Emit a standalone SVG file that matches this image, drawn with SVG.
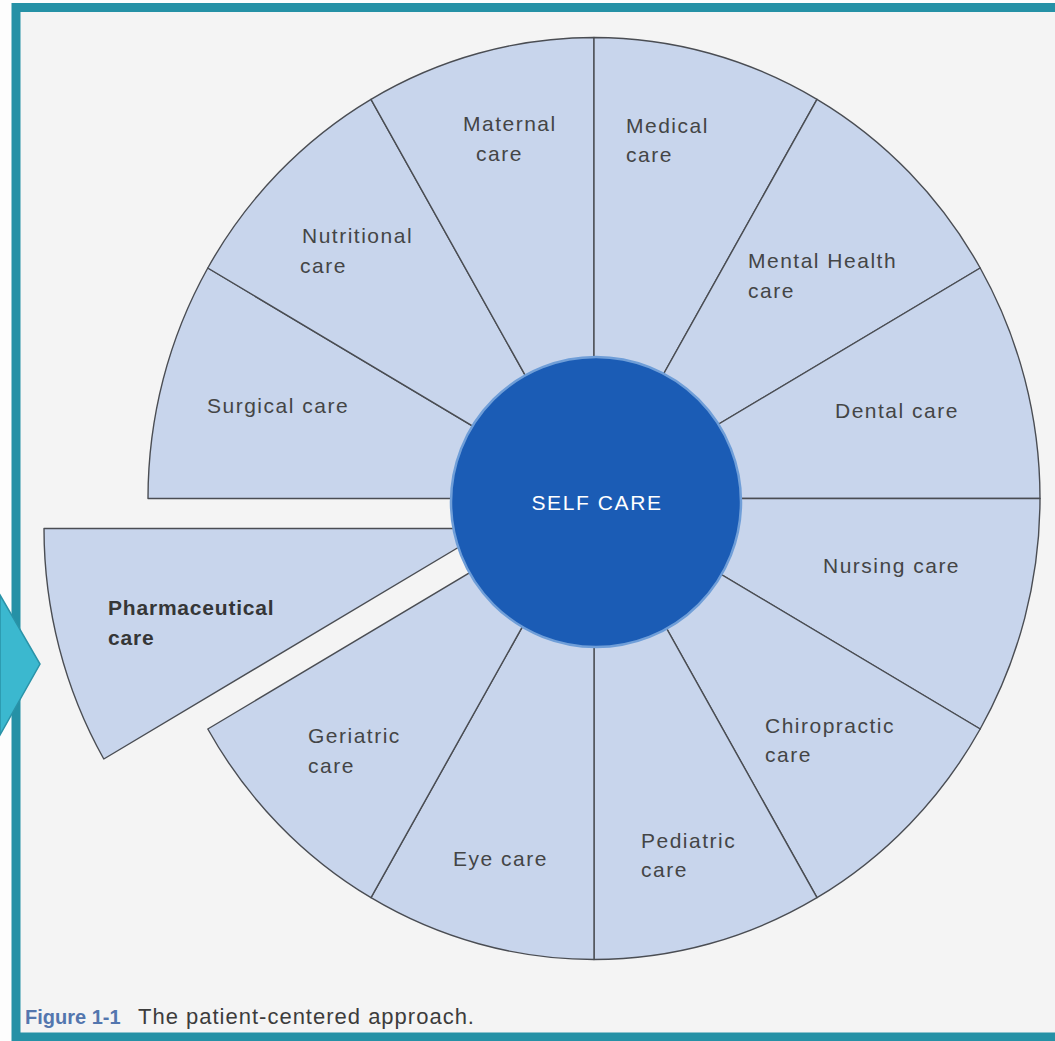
<svg xmlns="http://www.w3.org/2000/svg" width="1055" height="1041" viewBox="0 0 1055 1041">
<style>
.sec{fill:#c8d5ec;stroke:#4a4d53;stroke-width:1.4;stroke-linejoin:round}
.lbl{font-family:"Liberation Sans",Arial,sans-serif;font-size:21px;fill:#444546;letter-spacing:1.5px}
.bold{font-weight:bold;fill:#353637;letter-spacing:0.8px}
.self{font-family:"Liberation Sans",Arial,sans-serif;font-size:21px;fill:#ffffff;letter-spacing:1.6px;text-anchor:middle}
.cap{font-family:"Liberation Sans",Arial,sans-serif;font-size:22px}
.fig{font-size:20px;font-weight:bold;fill:#5376ae}
</style>
<rect x="0" y="0" width="1055" height="1041" fill="#fdfdfd"/>
<rect x="16" y="7.5" width="1060" height="1029.5" fill="#f4f4f4" stroke="#2591a6" stroke-width="9"/>
<g id="arrow"><polygon points="0,595 40,664 0,735" fill="#3bb8cf" stroke="#2a93a8" stroke-width="1.5"/></g>
<g id="wheel">
<g id="surgical"><path class="sec" d="M594 498.5 L148 498.5 A446 461 0 0 1 207.8 268 Z"/><text class="lbl" x="207" y="413">Surgical care</text></g>
<g id="nutritional"><path class="sec" d="M594 498.5 L207.8 268 A446 461 0 0 1 371 99.3 Z"/><text class="lbl" x="302" y="243">Nutritional</text><text class="lbl" x="300" y="273">care</text></g>
<g id="maternal"><path class="sec" d="M594 498.5 L371 99.3 A446 461 0 0 1 594 37.5 Z"/><text class="lbl" x="463" y="131">Maternal</text><text class="lbl" x="476" y="161">care</text></g>
<g id="medical"><path class="sec" d="M594 498.5 L594 37.5 A446 461 0 0 1 817 99.3 Z"/><text class="lbl" x="626" y="133">Medical</text><text class="lbl" x="626" y="162">care</text></g>
<g id="mental"><path class="sec" d="M594 498.5 L817 99.3 A446 461 0 0 1 980.2 268 Z"/><text class="lbl" x="748" y="268">Mental Health</text><text class="lbl" x="748" y="298">care</text></g>
<g id="dental"><path class="sec" d="M594 498.5 L980.2 268 A446 461 0 0 1 1040 498.5 Z"/><text class="lbl" x="835" y="418">Dental care</text></g>
<g id="nursing"><path class="sec" d="M594 498.5 L1040 498.5 A446 461 0 0 1 980.2 729 Z"/><text class="lbl" x="823" y="573">Nursing care</text></g>
<g id="chiropractic"><path class="sec" d="M594 498.5 L980.2 729 A446 461 0 0 1 817 897.7 Z"/><text class="lbl" x="765" y="733">Chiropractic</text><text class="lbl" x="765" y="762">care</text></g>
<g id="pediatric"><path class="sec" d="M594 498.5 L817 897.7 A446 461 0 0 1 594 959.5 Z"/><text class="lbl" x="641" y="848">Pediatric</text><text class="lbl" x="641" y="877">care</text></g>
<g id="eye"><path class="sec" d="M594 498.5 L594 959.5 A446 461 0 0 1 371 897.7 Z"/><text class="lbl" x="453" y="866">Eye care</text></g>
<g id="geriatric"><path class="sec" d="M594 498.5 L371 897.7 A446 461 0 0 1 207.8 729 Z"/><text class="lbl" x="308" y="743">Geriatric</text><text class="lbl" x="308" y="773">care</text></g>
<g id="pharmaceutical"><path class="sec" d="M490 528.5 L103.8 759 A446 461 0 0 1 44 528.5 Z"/><text class="lbl bold" x="108" y="615">Pharmaceutical</text><text class="lbl bold" x="108" y="645">care</text></g>
</g>
<g id="selfcare"><circle cx="596" cy="502" r="145" fill="#1b5cb5" stroke="#6f9ed8" stroke-width="2.5"/><text class="self" x="597" y="510">SELF CARE</text></g>
<g id="caption"><text class="cap fig" x="25" y="1024">Figure 1-1</text><text class="cap" x="138" y="1024" fill="#3c3c3c" letter-spacing="1">The patient-centered approach.</text></g>
<g id="connectors"/>
</svg>
